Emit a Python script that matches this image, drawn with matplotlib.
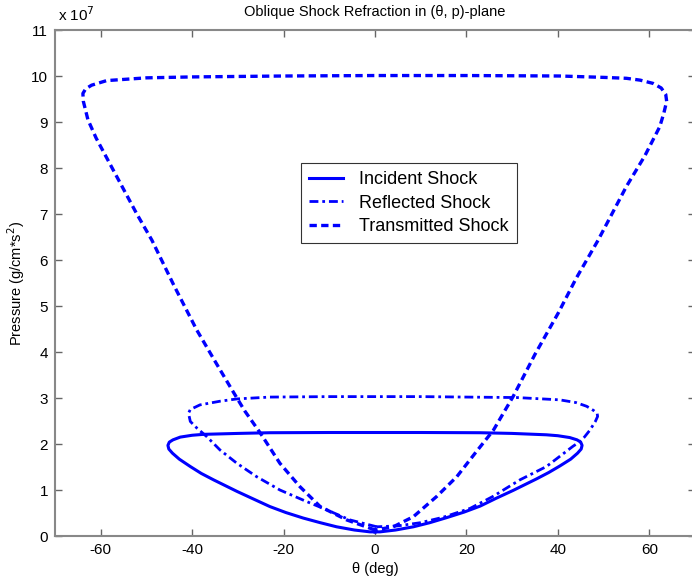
import numpy as np
import matplotlib.pyplot as plt

plt.rcParams['font.family'] = ['Liberation Sans', 'DejaVu Sans']
plt.rcParams['axes.unicode_minus'] = False

# shock polars, theta in degrees, pressure in units of 1e7 g/(cm*s^2)
incident_theta = [0, -1.1, -4.5, -8.4, -12, -15.7, -19.5, -23, -26.5, -30.2, -35.3, -38, -40.4,
                  -42.8, -44.3, -45.1, -45.3, -45.0, -44.2, -42.6, -40, -37.5, -30, -23, -10,
                  0, 10, 23, 30, 37.5, 40, 42.6, 44.2, 45.0, 45.3, 45.1, 44.3, 42.8, 40.4,
                  38, 35.3, 30.2, 26.5, 23, 19.5, 15.7, 12, 8.4, 4.5, 1.1, 0]
incident_p = [0.09, 0.09, 0.13, 0.2, 0.29, 0.39, 0.51, 0.64, 0.8, 0.97, 1.22, 1.36, 1.51,
              1.67, 1.80, 1.89, 1.97, 2.04, 2.09, 2.15, 2.19, 2.21, 2.23, 2.245, 2.25,
              2.25, 2.25, 2.245, 2.23, 2.20, 2.18, 2.14, 2.09, 2.04, 1.97, 1.89, 1.80, 1.67, 1.52,
              1.38, 1.24, 0.99, 0.82, 0.65, 0.52, 0.40, 0.29, 0.2, 0.13, 0.09, 0.09]

reflected_theta = [0.4, -5.5, -10.6, -15.7, -20.8, -25.9, -30.2, -33.9, -36.8, -39.0,
                   -40.4, -40.8, -40.4, -38.3, -33.9, -30.2, -23, -10, 0, 10, 20, 31,
                   40.4, 44, 46.3, 47.8, 48.6, 48.7, 48.2, 47.0, 45.8, 44.8, 43.3, 40.4,
                   37.5, 31.7, 25.8, 20.8, 15, 10, 5, 0.4]
reflected_p = [0.2, 0.35, 0.57, 0.78, 1.0, 1.29, 1.58, 1.87, 2.16, 2.35,
               2.49, 2.67, 2.75, 2.85, 2.93, 2.98, 3.02, 3.03, 3.03, 3.03, 3.02, 3.01,
               2.96, 2.9, 2.82, 2.73, 2.66, 2.6, 2.49, 2.3, 2.15, 2.05, 1.95, 1.73,
               1.51, 1.22, 0.86, 0.6, 0.41, 0.29, 0.22, 0.2]

transmitted_theta = [0, -1.1, -6.2, -12, -16.4, -20.8, -25.1, -28.5, -31.3, -35, -39.0, -44.0,
                     -48.8, -52.1, -57.5, -61, -62.8, -63.8, -63.9, -63.3, -62, -58.7, -50, -40,
                     -20, 0, 20, 40.4, 50, 55, 58, 60.8, 62.6, 63.6, 63.8, 63.2, 62.3, 59.0, 55.0,
                     48.8, 44, 40.1, 35, 32.4, 30.2, 25.9, 21.9, 17.9, 13.5, 8.4, 4, 0]
transmitted_p = [0.13, 0.17, 0.35, 0.64, 1.07, 1.58, 2.24, 2.72, 3.18, 3.8, 4.48, 5.45,
                 6.43, 7.0, 8.0, 8.65, 9.05, 9.45, 9.62, 9.72, 9.8, 9.9, 9.96, 9.98,
                 10.0, 10.01, 10.01, 10.0, 9.97, 9.95, 9.91, 9.84, 9.74, 9.6, 9.45, 9.2, 8.9, 8.26, 7.6,
                 6.43, 5.6, 4.85, 3.95, 3.45, 3.03, 2.3, 1.8, 1.29, 0.86, 0.42, 0.2, 0.13]

fig = plt.figure(figsize=(6.92, 5.82), dpi=100)
ax = fig.add_axes([55 / 692, 1 - 536 / 582, 640 / 692, 506 / 582])

blue = '#0000ff'
ax.plot(incident_theta, incident_p, color=blue, lw=2.2, ls='-',
        solid_joinstyle='round', label='Incident Shock')
ax.plot(reflected_theta, reflected_p, color=blue, lw=2.0,
        dashes=(3.2, 1.4, 1.0, 1.4), label='Reflected Shock')
ax.plot(transmitted_theta, transmitted_p, color=blue, lw=2.4,
        dashes=(2.2, 1.3), label='Transmitted Shock')

ax.set_xlim(-70, 70)
ax.set_ylim(0, 11)
ax.set_xticks(np.arange(-60, 61, 20))
ax.set_yticks(np.arange(0, 12, 1))

for s in ax.spines.values():
    s.set_color('#888888')
    s.set_linewidth(1.5)
ax.tick_params(direction='in', top=True, right=True, length=5, width=1,
               color='#666666', labelsize=11, labelcolor='black', pad=5)

ax.set_title('Oblique Shock Refraction in (\u03b8, p)-plane', fontsize=10.5, pad=10)
ax.set_xlabel('\u03b8 (deg)', fontsize=10.5, labelpad=4)
ax.set_ylabel('Pressure (g/cm*s$^2$)', fontsize=10.5, labelpad=3)
ax.text(0.005, 1.012, 'x 10$^7$', transform=ax.transAxes, fontsize=11,
        ha='left', va='bottom')

leg = ax.legend(loc='center', bbox_to_anchor=(0.553, 0.658), fontsize=13,
                frameon=True, fancybox=False, handlelength=1.9,
                borderpad=0.45, labelspacing=0.35, handletextpad=0.9)
leg.get_frame().set_edgecolor('black')
leg.get_frame().set_linewidth(0.8)

fig.savefig('out.png', dpi=100)
